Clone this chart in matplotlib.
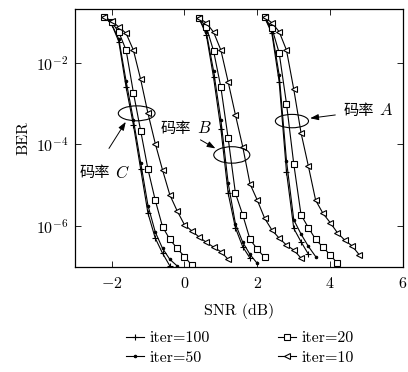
import numpy as np
import matplotlib
matplotlib.use("Agg")
import matplotlib.pyplot as plt
from matplotlib.patches import Ellipse

plt.rcParams['font.family'] = ['cmr10', 'Noto Sans CJK SC', 'DejaVu Sans']
plt.rcParams['mathtext.fontset'] = 'cm'
plt.rcParams['axes.formatter.use_mathtext'] = True
plt.rcParams['axes.unicode_minus'] = True

# ---------------- data (log10 BER) ----------------
# Rate C
c_snr100 = [-2.2, -2.0, -1.8, -1.6, -1.4, -1.2, -1.0, -0.8, -0.6, -0.4]
c_it100 = [-0.87, -1.05, -1.48, -2.60, -3.52, -4.61, -5.69, -6.30, -6.67, -6.98]
c_snr50 = [-2.2, -2.0, -1.8, -1.6, -1.4, -1.2, -1.0, -0.8, -0.6, -0.4, -0.2]
c_it50 = [-0.87, -1.05, -1.42, -2.45, -3.40, -4.45, -5.50, -6.15, -6.55, -6.82, -6.98]
c_snr20 = [-2.2, -2.0, -1.8, -1.6, -1.4, -1.2, -1.0, -0.8, -0.6, -0.4, -0.2, 0.0, 0.2]
c_it20 = [-0.87, -1.00, -1.25, -1.69, -2.73, -3.67, -4.61, -5.37, -6.02, -6.33, -6.55, -6.75, -6.96]
c_snr10 = [-2.2, -2.0, -1.8, -1.6, -1.4, -1.2, -1.0, -0.8, -0.6, -0.4, -0.2, 0.0,
           0.2, 0.4, 0.6, 0.8, 1.0, 1.2]
c_it10 = [-0.87, -0.98, -1.12, -1.28, -1.69, -2.41, -3.24, -3.98, -4.63, -5.24, -5.63, -5.97,
          -6.12, -6.27, -6.40, -6.52, -6.63, -6.82]

# Rate B
b_snr100 = [0.4, 0.6, 0.8, 1.0, 1.2, 1.4, 1.6, 1.8]
b_it100 = [-0.91, -1.31, -2.36, -3.62, -5.20, -6.05, -6.51, -6.79]
b_snr50 = [0.4, 0.6, 0.8, 1.0, 1.2, 1.4, 1.6, 1.8, 2.0]
b_it50 = [-0.91, -1.25, -2.20, -3.40, -4.95, -5.95, -6.40, -6.70, -6.92]
b_snr20 = [0.4, 0.6, 0.8, 1.0, 1.2, 1.4, 1.6, 1.8, 2.0, 2.2]
b_it20 = [-0.91, -1.12, -1.71, -2.60, -3.85, -5.20, -5.73, -6.33, -6.57, -6.77]
b_snr10 = [0.4, 0.6, 0.8, 1.0, 1.2, 1.4, 1.6, 1.8, 2.0, 2.2, 2.4, 2.6, 2.8, 3.0, 3.2]
b_it10 = [-0.91, -1.02, -1.25, -1.69, -2.47, -3.28, -4.06, -4.97, -5.37, -5.81, -6.10,
          -6.30, -6.47, -6.59, -6.79]

# Rate A
a_snr100 = [2.2, 2.4, 2.6, 2.8, 3.0, 3.2, 3.4]
a_it100 = [-0.89, -1.28, -2.47, -4.67, -6.06, -6.39, -6.69]
a_snr50 = [2.2, 2.4, 2.6, 2.8, 3.0, 3.2, 3.4, 3.6]
a_it50 = [-0.89, -1.22, -2.30, -4.40, -5.85, -6.20, -6.50, -6.75]
a_snr20 = [2.2, 2.4, 2.6, 2.8, 3.0, 3.2, 3.4, 3.6, 3.8, 4.0, 4.2]
a_it20 = [-0.89, -1.15, -1.76, -3.00, -4.48, -5.73, -6.04, -6.33, -6.52, -6.71, -6.92]
a_snr10 = [2.2, 2.4, 2.6, 2.8, 3.0, 3.2, 3.4, 3.6, 3.8, 4.0, 4.2, 4.4, 4.6, 4.8]
a_it10 = [-0.89, -1.02, -1.24, -1.69, -2.65, -3.72, -4.53, -5.37, -5.69, -5.92, -6.17,
          -6.35, -6.49, -6.71]

legend_labels = ['iter=100', 'iter=50', 'iter=20', 'iter=10']
rate_names = ['A', 'B', 'C']
x_ticks = [-2, 0, 2, 4, 6]
y_ticks = [1e-2, 1e-4, 1e-6]

# ---------------- figure ----------------
FS = 11.5
fig = plt.figure(figsize=(4.08, 3.72), dpi=100)
ax = fig.add_axes([0.184, 0.283, 0.804, 0.692])

lw = 0.8
styles = {
    'it100': dict(marker='+', ms=5, mew=0.8),
    'it50': dict(marker='.', ms=3.5, mew=0.8),
    'it20': dict(marker='s', ms=3.8, mew=0.8, mfc='white'),
    'it10': dict(marker='<', ms=4.3, mew=0.8, mfc='white'),
}

groups = [
    (c_snr100, c_it100, c_snr50, c_it50, c_snr20, c_it20, c_snr10, c_it10),
    (b_snr100, b_it100, b_snr50, b_it50, b_snr20, b_it20, b_snr10, b_it10),
    (a_snr100, a_it100, a_snr50, a_it50, a_snr20, a_it20, a_snr10, a_it10),
]
handles = None
for gi, g in enumerate(groups):
    hs = []
    for k, key in enumerate(['it100', 'it50', 'it20', 'it10']):
        xs = g[2 * k]
        ys = 10.0 ** np.array(g[2 * k + 1])
        h, = ax.plot(xs, ys, color='black', lw=lw, mec='black', **styles[key])
        hs.append(h)
    if handles is None:
        handles = hs

ax.set_yscale('log')
ax.set_xlim(-3, 6)
ax.set_ylim(1e-7, 10 ** -0.69)
ax.set_xticks(x_ticks)
ax.set_yticks(y_ticks)
ax.yaxis.set_minor_locator(matplotlib.ticker.NullLocator())
ax.tick_params(which='both', direction='in', top=True, right=True, length=4,
               width=0.6, labelsize=FS)
ax.tick_params(axis='x', pad=7)
ax.tick_params(axis='y', pad=5)
for s in ax.spines.values():
    s.set_linewidth(0.9)

ax.set_xlabel('SNR (dB)', fontsize=FS, labelpad=8)
ax.set_ylabel('BER', fontsize=FS, labelpad=4)

# ellipses (centres given in data, sizes in axes fraction)
def add_ellipse(xc, logyc, w, h):
    p = ax.transAxes.inverted().transform(ax.transData.transform((xc, 10 ** logyc)))
    ax.add_patch(Ellipse(p, w, h, transform=ax.transAxes, fill=False,
                         edgecolor='black', lw=0.8, zorder=5))

add_ellipse(-1.31, -3.24, 0.112, 0.058)
add_ellipse(1.30, -4.26, 0.110, 0.064)
add_ellipse(2.95, -3.43, 0.101, 0.052)

arrow = dict(arrowstyle='-|>,head_length=0.5,head_width=0.18', color='black',
             lw=0.7, shrinkA=0, shrinkB=0)
# (tail, head, text position) for A, B, C
ann = [
    ((4.14, -3.28), (3.45, -3.36), (4.36, -3.16)),
    ((0.44, -3.89), (0.85, -4.10), (-0.65, -3.60)),
    ((-2.07, -4.10), (-1.61, -3.45), (-2.89, -4.68)),
]
for name, (tail, head, tpos) in zip(rate_names, ann):
    ax.annotate('', xy=(head[0], 10 ** head[1]), xytext=(tail[0], 10 ** tail[1]),
                arrowprops=arrow)
    t1 = ax.text(tpos[0], 10 ** tpos[1], '码率', family='Noto Sans CJK SC',
                 fontsize=FS - 0.5, va='center', ha='left')
    ax.annotate('$' + name + '$', xy=(1, 0.5), xycoords=t1, xytext=(4, 0),
                textcoords='offset points', va='center', ha='left', fontsize=FS + 0.5)

fig.legend(handles, legend_labels, ncol=2, loc='center',
           bbox_to_anchor=(0.588, 0.0645), frameon=False, fontsize=FS,
           handlelength=1.1, handletextpad=0.35, columnspacing=4.3,
           labelspacing=0.33, borderpad=0.1)

fig.savefig('out.png', dpi=100)
